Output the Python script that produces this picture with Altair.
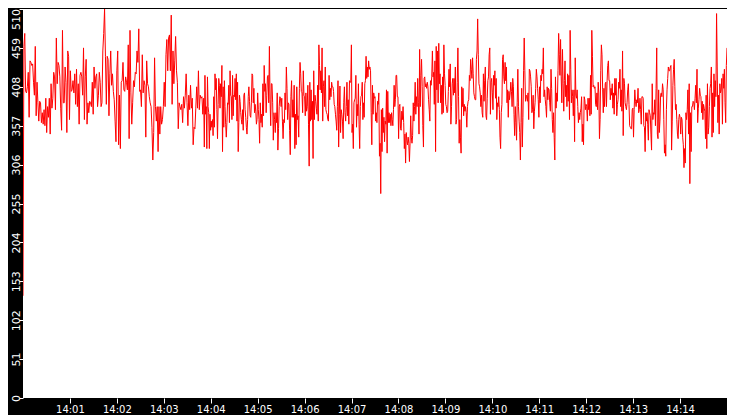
import altair as alt
import numpy as np
import pandas as pd

# segment start times, seconds after 14:00:00
seg_start_s = [0, 231, 300, 375, 450, 525, 600, 675, 750, 825]
end_s = 900

seg1 = [134, 461, 478, 402, 400, 408, 427, 368, 442, 440,
        436, 438, 414, 397, 461, 370, 414, 387, 363, 389,
        387, 361, 374, 359, 378, 357, 393, 348, 382, 368,
        393, 346, 412, 380, 393, 427, 421, 378, 472, 412,
        440, 436, 421, 380, 351, 482, 387, 387, 434, 414,
        348, 455, 448, 365, 429, 402, 404, 416, 400, 425,
        385, 431, 382, 412, 359, 423, 427, 421, 397, 459,
        365, 421, 444, 359, 387, 374, 389, 387, 382, 414,
        372, 434, 406, 421, 425, 382, 397, 427, 414, 382,
        387, 455, 478, 510, 448, 385, 448, 444, 370, 425,
        455, 410, 425, 402, 391, 363, 336, 429, 455, 332,
        397, 327, 414, 416, 440, 404, 402, 421, 414, 404,
        463, 340, 482, 400, 359, 387, 416, 408, 427, 425,
        455, 440, 484, 402, 404, 382, 450, 400, 416, 410,
        342, 442, 412, 408, 395, 387, 382, 355, 312, 348,
        446, 382, 363, 382, 323, 382, 346, 382, 359, 365,
        382, 414, 382, 450, 470, 429, 472, 476, 429, 502,
        385, 455, 412, 442, 474, 429, 414, 353, 387, 382,
        378, 385, 361, 395, 380, 397, 425, 387, 357, 397,
        378, 410, 380, 393, 332, 355, 353, 380, 408, 380,
        429, 378, 397, 393, 395, 372]
seg2 = [393, 329, 423, 372, 382, 327, 421, 382, 374, 327, 372, 351, 363, 355, 365, 344,
        395, 355, 425, 404, 419, 378, 340, 385, 419, 410, 380, 412, 395, 436, 323, 408,
        355, 416, 382, 359, 342, 361, 387, 385, 410, 361, 429, 397, 395, 365, 423, 370,
        397, 395, 419, 391, 425, 363, 414, 323, 361, 397, 389, 374, 365, 359, 378, 351,
        397, 400, 378, 368, 355, 346, 365, 395, 408, 389, 370, 368, 387, 425, 423, 387,
        406, 374, 385, 376, 359, 365]
seg3 = [400, 378, 365, 334, 387, 361, 372, 355, 412, 370, 436, 402, 412, 374, 397, 421,
        423, 387, 461, 391, 357, 412, 412, 387, 338, 374, 365, 348, 374, 361, 400, 325,
        353, 382, 395, 393, 382, 393, 363, 340, 365, 361, 400, 378, 434, 406, 365, 387,
        385, 351, 319, 395, 416, 368, 391, 368, 410, 327, 372, 332, 408, 365, 370, 342,
        406, 440, 425, 402, 400, 374, 429, 397, 395, 370, 400, 376, 382, 410, 359, 304,
        414, 363, 404, 365, 389, 314, 429, 365, 397, 389]
seg4 = [380, 372, 410, 363, 463, 436, 404, 429, 400, 459, 363, 408, 416, 382, 434, 378,
        374, 372, 365, 363, 423, 391, 406, 395, 414, 408, 408, 402, 385, 382, 372, 363,
        351, 382, 416, 329, 372, 409, 348, 378, 372, 363, 340, 387, 408, 374, 363, 382,
        414, 370, 391, 359, 416, 414, 414, 463, 348, 359, 327, 387, 391, 393, 423, 355,
        385, 370, 412, 359, 327, 382, 395, 397, 414, 365, 387, 368, 412, 416, 448, 419,
        434, 421, 442, 431, 434, 429, 374, 332, 410, 372, 400, 393]
seg5 = [395, 363, 374, 361, 389, 385, 400, 317, 334, 268, 378, 323, 380, 348, 368, 336,
        363, 359, 404, 321, 402, 361, 374, 361, 372, 357, 374, 365, 357, 378, 410, 382,
        391, 423, 423, 395, 395, 340, 382, 385, 353, 351, 376, 365, 382, 361, 327, 346,
        308, 348, 338, 332, 342, 334, 310, 334, 370, 342, 334, 344, 387, 363, 382, 414,
        372, 395, 382, 419, 387, 346, 457, 382, 423, 444, 408, 357, 329, 419, 421, 408,
        412, 406, 414, 408, 391, 378, 363, 416, 410, 421, 455, 421]
seg6 = [427, 385, 442, 323, 461, 404, 455, 387, 465, 412, 425, 387, 410, 372, 421, 374,
        463, 425, 410, 385, 382, 374, 376, 402, 431, 408, 438, 359, 382, 412, 419, 397,
        419, 400, 434, 359, 365, 414, 459, 395, 334, 365, 342, 321, 408, 382, 406, 370,
        385, 376, 382, 374, 355, 382, 389, 391, 423, 416, 444, 431, 419, 446, 425, 400,
        395, 391, 391, 444, 455, 497, 450, 412, 408, 400, 382, 397, 374, 368, 425, 389,
        416, 434, 370, 365, 393, 416, 421, 450, 459, 372, 414, 419]
seg7 = [400, 378, 423, 410, 429, 393, 419, 365, 387, 382, 395, 378, 342, 327, 374, 385,
        444, 450, 421, 412, 440, 416, 434, 387, 404, 368, 402, 391, 400, 414, 402, 382,
        419, 408, 372, 344, 382, 361, 338, 387, 431, 382, 363, 348, 312, 361, 406, 329,
        368, 429, 472, 429, 389, 397, 395, 389, 400, 365, 431, 429, 421, 408, 374, 378,
        397, 353, 376, 387, 406, 431, 421, 406, 391, 368, 408, 387, 423, 416, 431, 425,
        459, 395, 404, 391, 382, 368, 408, 391, 406, 404, 387, 376]
seg8 = [431, 406, 365, 348, 374, 342, 312, 421, 380, 400, 389, 429, 478, 450, 423, 470,
        421, 387, 457, 412, 376, 416, 442, 395, 410, 382, 425, 389, 423, 365, 482, 431,
        387, 404, 395, 370, 404, 336, 446, 397, 393, 404, 382, 361, 374, 365, 374, 380,
        395, 336, 359, 332, 395, 391, 378, 385, 382, 363, 393, 378, 393, 370, 423, 372,
        482, 448, 408, 410, 406, 408, 385, 382, 400, 378, 414, 400, 340, 365, 429, 463,
        450, 404, 374, 406, 382, 412, 414, 382, 416, 436, 442, 416]
seg9 = [416, 391, 406, 397, 412, 380, 400, 372, 419, 397, 419, 370, 385, 391, 414, 406,
        431, 382, 404, 376, 455, 344, 419, 412, 387, 382, 378, 387, 404, 412, 385, 357,
        355, 353, 353, 378, 380, 342, 378, 404, 389, 382, 391, 387, 406, 374, 378, 393,
        378, 359, 395, 395, 393, 357, 355, 323, 374, 363, 374, 359, 338, 378, 374, 370,
        346, 325, 412, 365, 374, 372, 391, 357, 406, 459, 346, 340, 404, 348, 363, 397,
        400, 395, 412, 404, 365, 321, 332, 317, 378, 404, 419]
seg10 = [434, 429, 429, 434, 436, 325, 363, 410, 431, 444, 408, 378, 385, 365, 346, 340,
         365, 372, 368, 346, 368, 365, 342, 332, 302, 327, 308, 374, 365, 378, 404, 346,
         412, 281, 374, 323, 382, 382, 389, 387, 378, 393, 410, 387, 431, 361, 380, 391,
         406, 397, 395, 374, 389, 365, 385, 380, 376, 340, 397, 327, 412, 346, 355, 382,
         406, 412, 434, 342, 400, 348, 425, 382, 416, 395, 504, 434, 361, 397, 346, 412,
         400, 404, 419, 359, 425, 406, 431, 387, 361, 436, 459]

segments = [seg1, seg2, seg3, seg4, seg5, seg6, seg7, seg8, seg9, seg10]

y_ticks = [0, 51, 102, 153, 204, 255, 306, 357, 408, 459, 510]
x_tick_minutes = list(range(1, 15))

base_ms = 1704117600000  # 2024-01-01 14:00:00 UTC

ts_all, vs_all = [], []
for i, seg in enumerate(segments):
    s0 = seg_start_s[i]
    last = i == len(segments) - 1
    s1 = end_s if last else seg_start_s[i + 1]
    ts = np.linspace(s0, s1, len(seg), endpoint=last)
    ts_all.extend((base_ms + ts * 1000).tolist())
    vs_all.extend(seg)

df = pd.DataFrame({"t": ts_all, "v": vs_all})

x_vals = [base_ms + m * 60000 for m in x_tick_minutes]

chart = alt.Chart(df).mark_line(color="#ff0000", strokeWidth=1, clip=True).encode(
    x=alt.X("t:T",
            scale=alt.Scale(type="utc", domain=[base_ms, base_ms + end_s * 1000]),
            axis=alt.Axis(values=x_vals, format="%H:%M", title=None, grid=False,
                          domain=False, tickColor="white", tickSize=5,
                          labelColor="white", labelFont="DejaVu Sans", labelFontSize=10,
                          labelPadding=1, minExtent=17, maxExtent=17)),
    y=alt.Y("v:Q",
            scale=alt.Scale(domain=[0, 510], nice=False, zero=True),
            axis=alt.Axis(values=y_ticks, title=None, grid=False, domain=False,
                          tickColor="white", tickSize=4,
                          labelColor="white", labelFont="DejaVu Sans", labelFontSize=11,
                          labelAngle=270, labelAlign="center", labelBaseline="alphabetic",
                          labelPadding=0,
                          labelOffset=alt.condition("datum.value == 510", alt.value(10), alt.value(0)),
                          minExtent=15, maxExtent=15)),
).properties(
    width=719, height=407, background="black", padding=0,
    autosize=alt.AutoSizeParams(type="fit", contains="padding")
).configure_view(fill="white", stroke=None)

chart.save("out.html", embed_options={"renderer": "svg", "actions": False})
